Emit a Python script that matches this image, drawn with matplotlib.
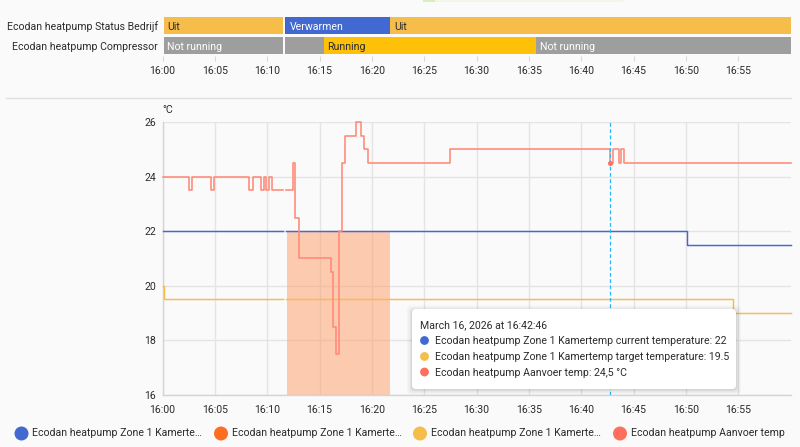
import numpy as np
import matplotlib
matplotlib.use("Agg")
import matplotlib.pyplot as plt
from matplotlib.patches import FancyBboxPatch, Circle, Rectangle

plt.rcParams['font.family'] = ['Roboto', 'DejaVu Sans']

W, H = 800, 447
BG = '#fafafa'
TEXT = '#2b2b2b'

minute_ticks = list(range(0, 60, 5))
minute_labels = ['16:00', '16:05', '16:10', '16:15', '16:20', '16:25',
                 '16:30', '16:35', '16:40', '16:45', '16:50', '16:55']

# timeline rows: (start minute, end minute, state)
status_start = [0.1, 11.7, 11.84, 21.73]
status_end = [11.55, 11.84, 21.73, 60.0]
status_state = ['Uit', '', 'Verwarmen', 'Uit']
status_colors = ['#f6bd4b', '#5f6368', '#4169d1', '#f6bd4b']
status_text = [TEXT, 'white', 'white', TEXT]

comp_start = [0.1, 11.7, 15.4, 35.65]
comp_end = [11.55, 15.4, 35.65, 60.0]
comp_state = ['Not running', '', 'Running', 'Not running']
comp_colors = ['#9e9e9e', '#9e9e9e', '#ffc107', '#9e9e9e']
comp_text = ['white', 'white', TEXT, 'white']

row_labels = ['Ecodan heatpump Status Bedrijf', 'Ecodan heatpump Compressor']

# temperature series (step-post breakpoints), nan = data gap
current_t = [0, 11.55, 11.75, 50.1, 60]
current_v = [22, np.nan, 22, 21.5, 21.5]

target_t = [0, 0.1, 11.55, 11.75, 54.5, 60]
target_v = [20, 19.5, np.nan, 19.5, 19, 19]

supply_t = [0, 2.5, 2.8, 4.66, 4.92, 8.3, 8.6, 9.4, 9.67, 9.9, 10.15, 10.46,
            11.55, 11.75, 12.5, 12.7, 13.0, 16.07, 16.3, 16.6, 16.86, 17.15,
            17.4, 18.48, 18.96, 19.24, 19.63, 27.43, 42.74, 43.0, 43.57,
            43.83, 44.1, 60]
supply_v = [24, 23.5, 24, 23.5, 24, 23.5, 24, 23.5, 24, 23.5, 24, 23.5,
            np.nan, 23.5, 24.5, 22.5, 21, 20.5, 18.5, 17.5, 22, 24.5,
            25.5, 26, 25.5, 25, 24.5, 25, 24.5, 25, 24.5,
            25, 24.5, 24.5]

heating_start, heating_end = 11.9, 21.73
heating_top, heating_bottom = 22, 16
cursor_t, cursor_v = 42.77, 24.5

legend_labels = ['Ecodan heatpump Zone 1 Kamerte…', 'Ecodan heatpump Zone 1 Kamerte…',
                 'Ecodan heatpump Zone 1 Kamerte…', 'Ecodan heatpump Aanvoer temp']
legend_colors = ['#4169d1', '#ff6d22', '#f5bd4a', '#ff6f5e']

tooltip_title = 'March 16, 2026 at 16:42:46'
tooltip_rows = ['Ecodan heatpump Zone 1 Kamertemp current temperature: 22',
                'Ecodan heatpump Zone 1 Kamertemp target temperature: 19.5',
                'Ecodan heatpump Aanvoer temp: 24,5 °C']
tooltip_colors = ['#4169d1', '#f5bd4a', '#ff6f5e']

FS = 7.6
X0, X1 = 162.5, 790.7


def axes_px(l, t, r, b, **kw):
    return fig.add_axes([l / W, 1 - b / H, (r - l) / W, (b - t) / H], **kw)


fig = plt.figure(figsize=(W / 100, H / 100), dpi=100, facecolor=BG)

# --- timeline
tl = axes_px(X0, 15.5, X1, 55.5, facecolor='none')
tl.set_xlim(0, 60)
tl.set_ylim(2, 0)
for row, (s, e, st, cs, ts) in enumerate([
        (status_start, status_end, status_state, status_colors, status_text),
        (comp_start, comp_end, comp_state, comp_colors, comp_text)]):
    for a, b, name, c, tc in zip(s, e, st, cs, ts):
        tl.barh(row + 0.5, b - a, left=a, height=0.88, color=c, linewidth=0)
        if name:
            tl.text(a + 0.37, row + 0.53, name, color=tc, fontsize=FS, va='center_baseline', ha='left')
tl.set_yticks([0.5, 1.5], row_labels, fontsize=FS, color=TEXT)
tl.tick_params(axis='y', length=0, pad=3.2)
tl.set_xticks(minute_ticks, minute_labels, fontsize=FS, color=TEXT)
tl.tick_params(axis='x', length=3.5, width=0.8, color='#d8d8d8', pad=3.8)
for s in tl.spines.values():
    s.set_visible(False)

# --- main chart
ax = axes_px(X0, 122, X1, 395, facecolor='none')
ax.set_xlim(0, 60)
ax.set_ylim(16, 26)
ax.set_xticks(minute_ticks, minute_labels, fontsize=FS, color=TEXT)
ax.set_yticks([16, 18, 20, 22, 24, 26])
ax.tick_params(axis='y', labelsize=FS, labelcolor=TEXT, length=0, pad=4.5)
ax.tick_params(axis='x', length=0, pad=7)
ax.grid(True, color='#e4e4e4', linewidth=1.0, zorder=0)
ax.set_axisbelow(True)
for k in ('top', 'right'):
    ax.spines[k].set_visible(False)
for k in ('left', 'bottom'):
    ax.spines[k].set_color('#d4d4d4')
    ax.spines[k].set_linewidth(1.0)

ax.fill_between([heating_start, heating_end], heating_bottom, heating_top,
                color='#ff9c66', alpha=0.5, linewidth=0, zorder=1.5)
ax.plot(current_t, current_v, drawstyle='steps-post', color='#4169d1', lw=1.05,
        zorder=3, clip_on=False)
ax.plot(target_t, target_v, drawstyle='steps-post', color='#f5bd4a', lw=1.05,
        zorder=3, clip_on=False)
ax.plot(supply_t, supply_v, drawstyle='steps-post', color='#ff8a78', lw=1.15,
        zorder=4, clip_on=False)
ax.axvline(cursor_t, color='#29b6f6', lw=0.9, ls=(0, (3, 2)), zorder=5)
ax.plot([cursor_t], [cursor_v], 'o', color='#ff6f5e', ms=3.6, mew=0, zorder=6)

# --- overlay in pixel coordinates
ov = fig.add_axes([0, 0, 1, 1], facecolor='none', zorder=10)
ov.set_xlim(0, W)
ov.set_ylim(H, 0)
ov.axis('off')

ov.add_line(plt.Line2D([6, 791], [98, 98], color='#e0e0e0', lw=1.0))
ov.add_patch(FancyBboxPatch((429, -8), 196, 9, boxstyle='round,pad=0,rounding_size=4',
                            fc='white', ec='#eef4dc', lw=0.9))
ov.add_patch(Rectangle((423, -1), 12, 2.5, fc='#d8eebc', ec='none'))

ov.text(162, 110, '°C', fontsize=FS, color=TEXT, va='center', ha='left')

for spread, a in [(5, 0.025), (3.5, 0.03), (2, 0.04), (1, 0.05)]:
    ov.add_patch(FancyBboxPatch((412 - spread, 310.5 - spread), 324 + 2 * spread, 79 + 2 * spread,
                                boxstyle='round,pad=0,rounding_size=4',
                                fc='black', ec='none', alpha=a))
ov.add_patch(FancyBboxPatch((412, 309), 324, 80, boxstyle='round,pad=0,rounding_size=4',
                            fc='white', ec='none'))
ov.text(420.5, 325, tooltip_title, fontsize=FS, color=TEXT, va='center', ha='left')
for y, txt, c in zip([341, 357, 372.5], tooltip_rows, tooltip_colors):
    ov.add_patch(Circle((424.5, y - 0.5), 4.4, fc=c, ec='none'))
    ov.text(435, y, txt, fontsize=FS, color=TEXT, va='center', ha='left')

for cx, txt, c in zip([21.5, 221, 420, 620], legend_labels, legend_colors):
    ov.add_patch(Circle((cx, 433.5), 7, fc=c, ec='none'))
    ov.text(cx + 11, 433.5, txt, fontsize=FS, color=TEXT, va='center', ha='left')

fig.savefig('out.png', dpi=100, facecolor=BG)
